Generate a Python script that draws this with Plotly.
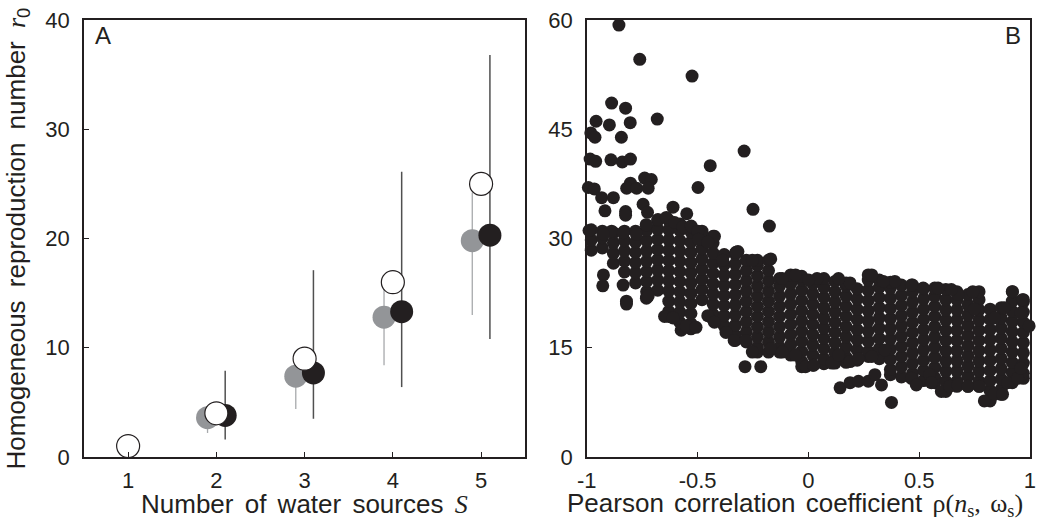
import plotly.graph_objects as go

# ---------------- Panel A data ----------------
open_x = [1, 2, 3, 4, 5]
open_y = [1.0, 4.0, 9.0, 16.0, 25.0]

gray_x = [1.9, 2.9, 3.9, 4.9]
gray_y = [3.6, 7.4, 12.8, 19.8]
gray_hi = [4.6, 9.0, 16.0, 24.2]
gray_lo = [2.2, 4.4, 8.4, 13.0]

black_x = [2.1, 3.1, 4.1, 5.1]
black_y = [3.8, 7.7, 13.3, 20.3]
black_hi = [7.9, 17.1, 26.1, 36.8]
black_lo = [1.6, 3.5, 6.4, 10.8]

a_xticks = [1, 2, 3, 4, 5]
a_yticks = [0, 10, 20, 30, 40]

# ---------------- Panel B data ----------------
# dense core, read column by column (rho value, list of r0 values)
b_col_rho = [-0.98, -0.93, -0.88, -0.83, -0.78, -0.73, -0.68, -0.63, -0.58, -0.53,
             -0.48, -0.43, -0.38, -0.33, -0.28, -0.23, -0.18, -0.13, -0.08, -0.03,
             0.02, 0.07, 0.12, 0.17, 0.22, 0.27, 0.32, 0.37, 0.42, 0.47,
             0.52, 0.57, 0.62, 0.67, 0.72, 0.77, 0.82, 0.87, 0.92, 0.97]
b_col_r0 = [
    [28.4, 29.8, 31.2],
    [28.7, 30.1, 31.0],
    [26.6, 28.0, 29.4, 30.8],
    [25.4, 26.9, 28.3, 29.7, 31.0],
    [23.9, 25.3, 26.7, 28.1, 29.5, 31.0],
    [22.0, 22.7, 24.1, 25.5, 26.9, 28.3, 29.7, 31.1, 31.8],
    [22.9, 24.3, 25.7, 27.1, 28.5, 29.9, 31.3, 32.5],
    [19.3, 20.0, 21.4, 22.8, 24.2, 25.6, 27.0, 28.4, 29.8, 31.2, 32.5],
    [18.5, 19.9, 21.3, 22.7, 24.1, 25.5, 26.9, 28.3, 29.7, 31.1, 32.0],
    [17.6, 18.3, 19.7, 21.1, 22.5, 23.9, 25.3, 26.7, 28.1, 29.5, 30.9, 31.6],
    [21.6, 23.0, 24.4, 25.8, 27.2, 28.6, 30.0, 31.0],
    [18.9, 19.6, 21.0, 22.4, 23.8, 25.2, 26.6, 28.0, 29.4, 30.3],
    [18.0, 19.4, 20.8, 22.2, 23.6, 25.0, 26.4, 27.8],
    [16.0, 16.7, 18.1, 19.5, 20.9, 22.3, 23.7, 25.1, 26.5, 27.9],
    [15.8, 17.2, 18.6, 20.0, 21.4, 22.8, 24.2, 25.6, 27.0],
    [14.4, 15.1, 16.5, 17.9, 19.3, 20.7, 22.1, 23.5, 24.9, 26.3, 27.0],
    [14.4, 15.8, 17.2, 18.6, 20.0, 21.4, 22.8, 24.2, 25.6, 27.0],
    [14.4, 15.1, 16.5, 17.9, 19.3, 20.7, 22.1, 23.5, 24.5],
    [14.0, 15.4, 16.8, 18.2, 19.6, 21.0, 22.4, 23.8, 25.0],
    [12.4, 13.1, 14.5, 15.9, 17.3, 18.7, 20.1, 21.5, 22.9, 24.3, 24.8],
    [12.6, 14.0, 15.4, 16.8, 18.2, 19.6, 21.0, 22.4, 23.8],
    [12.8, 13.5, 14.9, 16.3, 17.7, 19.1, 20.5, 21.9, 23.3, 24.5],
    [12.9, 14.3, 15.7, 17.1, 18.5, 19.9, 21.3, 22.7, 24.1],
    [13.0, 13.7, 15.1, 16.5, 17.9, 19.3, 20.7, 22.1, 23.5, 23.9],
    [13.3, 14.7, 16.1, 17.5, 18.9, 20.3, 21.7, 23.1],
    [13.8, 14.5, 15.9, 17.3, 18.7, 20.1, 21.5, 22.9, 24.3, 25.0],
    [13.5, 14.9, 16.3, 17.7, 19.1, 20.5, 21.9, 23.3, 24.3],
    [11.3, 12.0, 13.4, 14.8, 16.2, 17.6, 19.0, 20.4, 21.8, 23.2, 24.0],
    [11.0, 12.4, 13.8, 15.2, 16.6, 18.0, 19.4, 20.8, 22.2, 23.6],
    [10.8, 11.5, 12.9, 14.3, 15.7, 17.1, 18.5, 19.9, 21.3, 22.7, 23.6],
    [10.5, 11.9, 13.3, 14.7, 16.1, 17.5, 18.9, 20.3, 21.7, 23.1],
    [10.2, 10.9, 12.3, 13.7, 15.1, 16.5, 17.9, 19.3, 20.7, 22.1, 23.2],
    [9.0, 10.4, 11.8, 13.2, 14.6, 16.0, 17.4, 18.8, 20.2, 21.6, 23.0],
    [9.7, 10.4, 11.8, 13.2, 14.6, 16.0, 17.4, 18.8, 20.2, 21.6, 22.7],
    [9.7, 11.1, 12.5, 13.9, 15.3, 16.7, 18.1, 19.5, 20.9, 22.3],
    [9.7, 10.4, 11.8, 13.2, 14.6, 16.0, 17.4, 18.8, 20.2, 21.6, 22.7],
    [7.7, 9.1, 10.5, 11.9, 13.3, 14.7, 16.1, 17.5, 18.9, 20.3],
    [8.6, 9.3, 10.7, 12.1, 13.5, 14.9, 16.3, 17.7, 19.1, 20.5],
    [10.2, 11.6, 13.0, 14.4, 15.8, 17.2, 18.6, 20.0, 21.4, 22.7],
    [10.8, 11.5, 12.9, 14.3, 15.7, 17.1, 18.5, 19.9, 21.3, 21.6],
]

# scattered / edge points read individually
b_edge_rho = [-0.855, -0.761, -0.525, -0.888, -0.825, -0.682, -0.958, -0.898, -0.804, -0.982,
              -0.963, -0.844, -0.290, -0.985, -0.960, -0.891, -0.840, -0.803, -0.443, -0.993,
              -0.966, -0.498, -0.739, -0.709, -0.803, -0.820, -0.775, -0.723, -0.933, -0.880,
              -0.918, -0.825, -0.825, -0.746, -0.726, -0.611, -0.549, -0.250, -0.176, -0.990,
              -0.679, -0.641, -0.604, -0.566, -0.529, -0.499, -0.496, -0.424, -0.454, -0.732,
              -0.888, -0.925, -0.836, -0.776, -0.318, -0.925, -0.928, -0.836, -0.821, -0.821,
              -0.731, -0.723, -0.649, -0.611, -0.574, -0.552, -0.507, -0.454, -0.424, -0.372,
              -0.335, -0.283, -0.253, -0.286, -0.215, -0.170, -0.118, -0.058, -0.013, 0.024,
              0.106, 0.136, 0.143, 0.188, 0.226, 0.270, 0.300, 0.330, 0.375, 0.188,
              0.226, 0.286, 0.345, 0.465, 0.487, 0.547, 0.555, 0.600, 0.637, 0.675,
              0.720, 0.772, 0.794, 0.839, 0.876, 0.899, 0.944, 0.959, 0.996, 0.959,
              0.966, 0.921, 0.884, 0.839, 0.749, 0.742, 0.675, 0.645, 0.585, 0.518,
              0.465, 0.390, 0.338, 0.286, 0.188, 0.136, 0.039, 0.001, -0.058, -0.118,
              -0.170, -0.253, -0.327, -0.387]
b_edge_r0 = [59.3, 54.6, 52.3, 48.6, 47.9, 46.4, 46.1, 45.6, 45.9, 44.5,
             43.9, 43.9, 42.0, 40.9, 40.6, 40.8, 40.5, 40.9, 40.0, 37.0,
             36.8, 37.0, 38.3, 38.1, 37.6, 36.9, 36.9, 36.9, 35.6, 35.6,
             33.8, 33.7, 33.2, 34.7, 33.6, 34.3, 33.4, 34.0, 31.7, 31.1,
             32.6, 32.9, 32.2, 31.6, 31.7, 31.0, 29.9, 30.3, 29.5, 31.9,
             31.0, 30.6, 30.8, 30.6, 28.2, 25.0, 23.5, 23.6, 21.4, 21.0,
             21.8, 22.1, 19.3, 19.1, 17.4, 18.0, 17.8, 19.4, 18.5, 17.1,
             16.0, 16.0, 14.4, 12.4, 12.4, 14.9, 14.4, 14.0, 12.4, 12.6,
             12.9, 14.0, 9.5, 10.2, 10.4, 10.4, 11.3, 9.9, 7.5, 13.1,
             13.5, 13.8, 14.7, 10.8, 9.9, 11.3, 10.2, 9.0, 9.7, 9.9,
             9.7, 9.7, 7.7, 8.6, 8.6, 10.2, 10.8, 12.2, 18.0, 19.8,
             21.6, 22.7, 20.5, 19.1, 20.3, 22.7, 22.3, 23.0, 23.2, 23.2,
             23.6, 24.1, 24.1, 25.0, 23.9, 24.5, 24.5, 24.3, 25.0, 24.5,
             27.2, 27.0, 28.1, 27.0]

b_xticks = [-1, -0.5, 0, 0.5, 1]
b_xticklabels = ["-1", "-0.5", "0", "0.5", "1"]
b_yticks = [0, 15, 30, 45, 60]

# ---------------- build ----------------
INK = "#231f20"
GRAY = "#939598"
FONT = "Liberation Sans, Arial, sans-serif"

b_rho = []
b_r0 = []
for cx, ys in zip(b_col_rho, b_col_r0):
    for yv in ys:
        b_rho.append(cx)
        b_r0.append(yv)
b_rho += b_edge_rho
b_r0 += b_edge_r0

fig = go.Figure()

fig.add_trace(go.Scatter(
    x=gray_x, y=gray_y, mode="markers", xaxis="x", yaxis="y",
    marker=dict(size=23, color=GRAY, line=dict(width=0)),
    error_y=dict(type="data", symmetric=False,
                 array=[h - v for h, v in zip(gray_hi, gray_y)],
                 arrayminus=[v - l for l, v in zip(gray_lo, gray_y)],
                 color="#a7a9ac", thickness=1.3, width=0),
    showlegend=False))
fig.add_trace(go.Scatter(
    x=black_x, y=black_y, mode="markers", xaxis="x", yaxis="y",
    marker=dict(size=23, color=INK, line=dict(width=0)),
    error_y=dict(type="data", symmetric=False,
                 array=[h - v for h, v in zip(black_hi, black_y)],
                 arrayminus=[v - l for l, v in zip(black_lo, black_y)],
                 color="#505050", thickness=1.5, width=0),
    showlegend=False))
fig.add_trace(go.Scatter(
    x=open_x, y=open_y, mode="markers", xaxis="x", yaxis="y",
    marker=dict(size=23, color="white", line=dict(width=1.2, color=INK)),
    showlegend=False))

fig.add_trace(go.Scatter(
    x=b_rho, y=b_r0, mode="markers", xaxis="x2", yaxis="y2", cliponaxis=False,
    marker=dict(size=13, color=INK, line=dict(width=0)),
    showlegend=False))


def axis_style(**kw):
    d = dict(showline=True, linecolor=INK, linewidth=1.5, mirror=True,
             ticks="inside", ticklen=5, tickwidth=1, tickcolor=INK,
             showgrid=False, zeroline=False, layer="above traces",
             ticklabeloverflow="allow",
             tickfont=dict(family=FONT, size=22, color=INK))
    d.update(kw)
    return d


TITLE_FONT = dict(family=FONT, size=26, color=INK)

fig.update_layout(
    width=1044, height=527,
    margin=dict(l=84, r=8, t=12, b=70),
    paper_bgcolor="white", plot_bgcolor="white",
    font=dict(family=FONT, color=INK),
    xaxis=axis_style(domain=[0, 0.4664], range=[0.5, 5.5], tickvals=a_xticks,
                     anchor="y", ticklabelstandoff=3),
    yaxis=axis_style(domain=[0, 1], range=[0, 40], tickvals=a_yticks,
                     anchor="x", ticklabelstandoff=8),
    xaxis2=axis_style(domain=[0.5315, 1], range=[-1, 1], tickvals=b_xticks,
                      ticktext=b_xticklabels, anchor="y2", ticklabelstandoff=3),
    yaxis2=axis_style(domain=[0, 1], range=[0, 60], tickvals=b_yticks,
                      anchor="x2", ticklabelstandoff=8),
    annotations=[
        dict(text="A", xref="x domain", yref="y domain", x=0.02, y=1.0,
             xanchor="left", yanchor="top", showarrow=False,
             font=dict(family=FONT, size=24, color=INK)),
        dict(text="B", xref="x2 domain", yref="y2 domain", x=0.985, y=1.0,
             xanchor="right", yanchor="top", showarrow=False,
             font=dict(family=FONT, size=24, color=INK)),
        dict(text="<span style='word-spacing:4px'>Number of water sources "
                  "<span style='font-family:Liberation Serif'><i>S</i></span></span>",
             xref="x domain", yref="y domain", x=0.5, y=0, xanchor="center", yanchor="middle",
             yshift=-47, showarrow=False, font=TITLE_FONT),
        dict(text="<span style='word-spacing:6px'>Homogeneous reproduction number "
                  "<span style='font-family:Liberation Serif'><i>r</i></span><sub>0</sub></span>",
             xref="x domain", yref="y domain", x=0, y=0.5, xanchor="center", yanchor="middle",
             xshift=-67, textangle=-90, showarrow=False, font=TITLE_FONT),
        dict(text="<span style='word-spacing:3px'>Pearson correlation coefficient "
                  "<span style='font-family:Liberation Serif'>ρ(<i>n</i><sub>s</sub>, ω<sub>s</sub>)</span></span>",
             xref="x2 domain", yref="y2 domain", x=0.47, y=0, xanchor="center", yanchor="middle",
             yshift=-47, showarrow=False, font=TITLE_FONT),
    ],
)

fig.write_html("out.html", config={"displayModeBar": False},
               post_script="document.body.style.margin='0px';")
